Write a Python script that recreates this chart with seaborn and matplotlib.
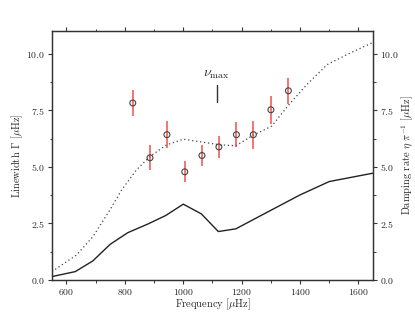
import numpy as np
import pandas as pd
import matplotlib
matplotlib.use("Agg")
import matplotlib.pyplot as plt
from matplotlib.ticker import MultipleLocator
import seaborn as sns

# ---- data ----
mode_freq = [827, 886, 944, 1005, 1064, 1122, 1182, 1240, 1300, 1360]
linewidth = [7.82, 5.40, 6.42, 4.78, 5.50, 5.88, 6.42, 6.42, 7.52, 8.36]
linewidth_err = [0.57, 0.55, 0.60, 0.46, 0.45, 0.50, 0.55, 0.62, 0.63, 0.58]

model_freq = [550, 634, 691, 749, 789, 840, 886, 943, 1000, 1126, 1180, 1240, 1303, 1360, 1423, 1492, 1572, 1650]
model_gamma = [0.37, 1.10, 1.92, 3.10, 3.98, 4.87, 5.46, 5.97, 6.22, 5.97, 5.93, 6.40, 6.80, 7.72, 8.63, 9.51, 10.03, 10.50]

damp_freq = [550, 630, 690, 750, 810, 880, 940, 1000, 1062, 1120, 1180, 1300, 1400, 1500, 1650]
damp_rate = [0.15, 0.37, 0.84, 1.58, 2.09, 2.48, 2.85, 3.35, 2.92, 2.14, 2.26, 3.08, 3.76, 4.35, 4.72]

numax = 1115

# ---- style ----
sns.set_style("ticks")
plt.rcParams["font.family"] = ["cmr10", "DejaVu Serif"]
plt.rcParams["mathtext.fontset"] = "cm"
plt.rcParams["axes.formatter.use_mathtext"] = True

fig = plt.figure(figsize=(4.15, 3.12), dpi=100)
ax = fig.add_axes([0.125, 0.1026, 0.774, 0.798])

df_model = pd.DataFrame({"f": model_freq, "g": model_gamma})
df_damp = pd.DataFrame({"f": damp_freq, "d": damp_rate})
sns.lineplot(data=df_model, x="f", y="g", ax=ax, color="#444444", lw=0.9,
             linestyle=(0, (1, 2.2)), sort=False)
sns.lineplot(data=df_damp, x="f", y="d", ax=ax, color="#222222", lw=1.0, sort=False)

ax.errorbar(mode_freq, linewidth, yerr=linewidth_err, fmt="none",
            ecolor="#f03030", elinewidth=1.1, alpha=0.85, zorder=3)
df_pts = pd.DataFrame({"f": mode_freq, "g": linewidth})
sns.scatterplot(data=df_pts, x="f", y="g", ax=ax, marker="o", s=18,
                facecolor="none", edgecolor="#444444", linewidth=0.8, zorder=4)

# nu_max marker
ax.plot([numax, numax], [7.85, 8.63], color="#333333", lw=1.0)
ax.text(numax, 8.78, r"$\nu_{\rm max}$", ha="center", va="bottom", fontsize=10)

ax.set_xlim(550, 1650)
ax.set_ylim(0, 11)
ax.xaxis.set_major_locator(MultipleLocator(200))
ax.xaxis.set_minor_locator(MultipleLocator(100))
ax.yaxis.set_major_locator(MultipleLocator(2.5))
ax.yaxis.set_minor_locator(MultipleLocator(1.25))
ax.set_xlabel(r"Frequency [$\mu$Hz]", fontsize=7.5, labelpad=0)
ax.set_ylabel(r"Linewidth $\Gamma$ [$\mu$Hz]", fontsize=7.5, labelpad=1)
ax.tick_params(axis="both", which="major", labelsize=7, length=3, width=0.8,
               top=True, direction="out", pad=2, color="#333333")
ax.tick_params(axis="both", which="minor", length=1.8, width=0.7, top=True,
               direction="out", color="#333333")

ax2 = ax.twinx()
ax2.set_ylim(0, 11)
ax2.yaxis.set_major_locator(MultipleLocator(2.5))
ax2.yaxis.set_minor_locator(MultipleLocator(1.25))
ax2.tick_params(axis="y", which="major", labelsize=7, length=3, width=0.8, pad=2, color="#333333")
ax2.tick_params(axis="y", which="minor", length=1.8, width=0.7, color="#333333")
ax2.set_ylabel(r"Damping rate $\eta\ \pi^{-1}$ [$\mu$Hz]", fontsize=7.5, labelpad=0.5)

for a in (ax, ax2):
    for s in a.spines.values():
        s.set_visible(True)
        s.set_linewidth(0.9)
        s.set_color("#333333")

fig.savefig("out.png", dpi=100)
